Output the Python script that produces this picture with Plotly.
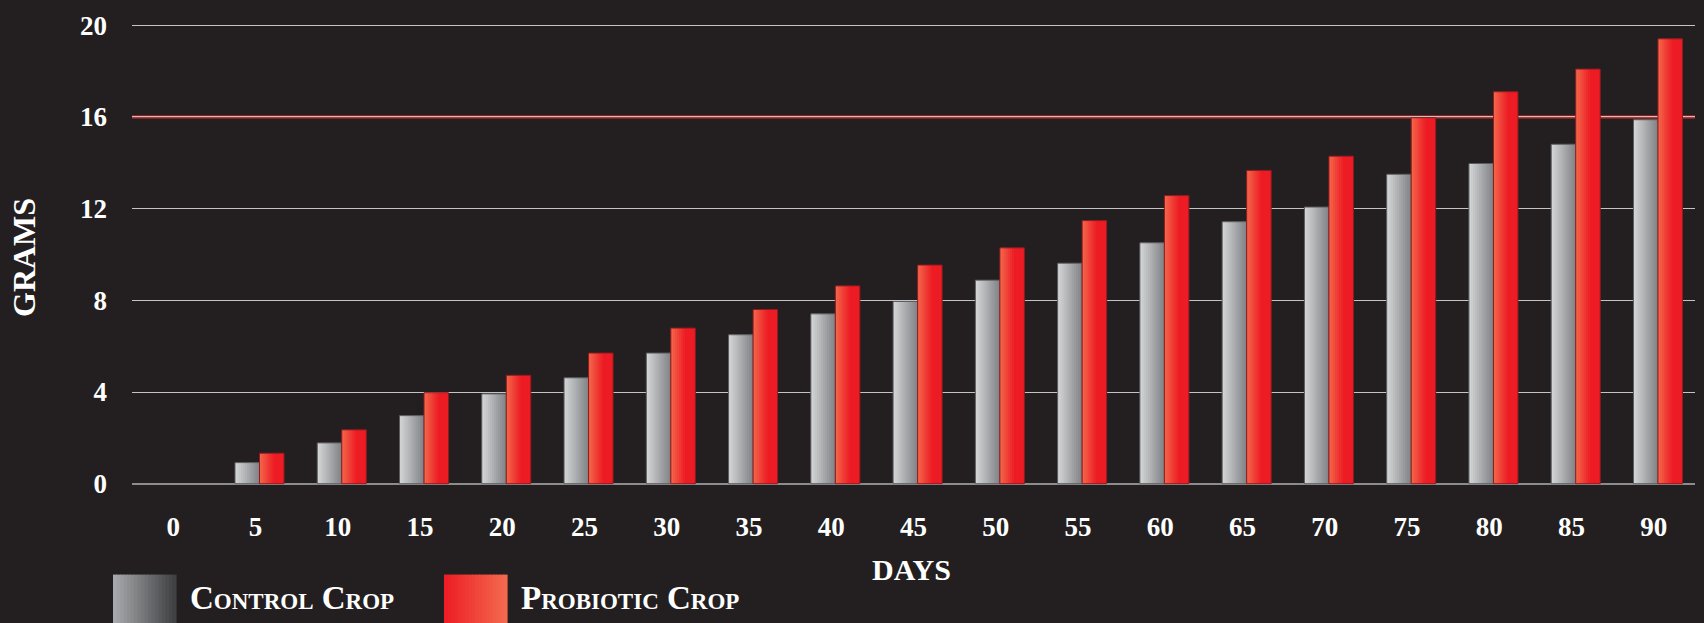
import plotly.graph_objects as go

# ---- data ----
days = ["0", "5", "10", "15", "20", "25", "30", "35", "40", "45",
        "50", "55", "60", "65", "70", "75", "80", "85", "90"]
control_crop = [0, 0.92, 1.78, 2.97, 3.92, 4.62, 5.70, 6.50, 7.41, 7.95,
                8.88, 9.62, 10.51, 11.43, 12.07, 13.50, 13.97, 14.81, 15.88]
probiotic_crop = [0, 1.33, 2.35, 3.97, 4.73, 5.70, 6.79, 7.60, 8.63, 9.54,
                  10.29, 11.48, 12.57, 13.67, 14.29, 15.97, 17.10, 18.09, 19.41]
y_ticks = [0, 4, 8, 12, 16, 20]
highlight_levels = [16]
series_names = ["Control Crop", "Probiotic Crop"]

# ---- style ----
BG = "#231f20"
FONT = "Liberation Serif"
BAR_W = 0.298
SHIFT = 0.05
N_STRIPS = 12


def hex_to_rgb(h):
    h = h.lstrip("#")
    return tuple(int(h[i:i + 2], 16) for i in (0, 2, 4))


def mix(c1, c2, t):
    a, b = hex_to_rgb(c1), hex_to_rgb(c2)
    return "rgb(%d,%d,%d)" % tuple(round(a[k] + (b[k] - a[k]) * t) for k in range(3))


fig = go.Figure()

series = [
    (control_crop, -BAR_W + SHIFT, "#d6d7d9", "#7f8184", 1.0, "#5c5d60"),
    (probiotic_crop, SHIFT, "#f3684b", "#ed1c24", 0.6, "#8e1b1f"),
]

for vals, off, c_left, c_right, reach, edge in series:
    sw = BAR_W / N_STRIPS
    for i in range(N_STRIPS):
        t = min(1.0, ((i + 0.5) / N_STRIPS) / reach)
        wid = sw * 1.6 if i < N_STRIPS - 1 else sw
        fig.add_trace(go.Bar(
            x=days, y=vals, offset=off + i * sw, width=wid,
            marker=dict(color=mix(c_left, c_right, t), line=dict(width=0)),
            showlegend=False, hoverinfo="skip"))
    edge_colors = [edge if v > 0 else "rgba(0,0,0,0)" for v in vals]
    fig.add_trace(go.Bar(
        x=days, y=vals, offset=off, width=BAR_W,
        marker=dict(color="rgba(0,0,0,0)", line=dict(color=edge_colors, width=1)),
        showlegend=False, hovertemplate="%{x}: %{y}<extra></extra>"))

for lvl in highlight_levels:
    fig.add_shape(type="line", xref="paper", yref="y", x0=0, x1=1, y0=lvl, y1=lvl,
                  line=dict(color="#c9302c", width=3), layer="below")

# ---- custom legend (paper coordinates) ----
PL, PW, PB, PH = 132, 1563, 486.3, 463.6


def px_x(px):
    return (px - PL) / PW


def px_y(py):
    return (PB - py) / PH


legend_items = [
    (series_names[0], 113, "#a9abae", "#3c3e40"),
    (series_names[1], 444, "#ed1c24", "#f36b4f"),
]
for name, x0px, c_l, c_r in legend_items:
    n = 18
    w = 63 / n
    for i in range(n):
        fig.add_shape(type="rect", xref="paper", yref="paper",
                      x0=px_x(x0px + i * w), x1=px_x(x0px + (i + 1) * w + 0.6),
                      y0=px_y(624), y1=px_y(575),
                      fillcolor=mix(c_l, c_r, (i + 0.5) / n), line=dict(width=0))
    fig.add_annotation(xref="paper", yref="paper", x=px_x(x0px + 75), y=px_y(598),
                       xanchor="left", yanchor="middle", showarrow=False,
                       text=name,
                       font=dict(family=FONT, size=33, color="white", weight="bold",
                                 variant="small-caps"))

fig.add_annotation(xref="paper", yref="paper", x=px_x(911), y=px_y(570),
                   xanchor="center", yanchor="middle", showarrow=False, text="DAYS",
                   font=dict(family=FONT, size=30, color="white", weight="bold"))
fig.add_annotation(xref="paper", yref="paper", x=px_x(24), y=px_y(258),
                   xanchor="center", yanchor="middle", showarrow=False, text="GRAMS",
                   textangle=-90,
                   font=dict(family=FONT, size=32, color="white", weight="bold"))

fig.update_layout(
    width=1704, height=623,
    paper_bgcolor=BG, plot_bgcolor=BG,
    barmode="overlay",
    margin=dict(l=PL, r=1704 - PL - PW, t=22.7, b=623 - 22.7 - PH, pad=0),
    showlegend=False,
    xaxis=dict(type="category", range=[-0.5, 18.5], showgrid=False, zeroline=False,
               showline=False, ticks="", ticklabelstandoff=22,
               tickfont=dict(family=FONT, size=27, color="white", weight="bold")),
    yaxis=dict(range=[-0.1, 20.1], tickvals=y_ticks, showgrid=True,
               gridcolor="#c4c4c4", gridwidth=1.2, zeroline=True,
               zerolinecolor="#8c8c8c", zerolinewidth=2, showline=False, ticks="",
               ticklabelstandoff=24,
               tickfont=dict(family=FONT, size=27, color="white", weight="bold")),
)

fig.write_html(
    "out.html",
    config={"displayModeBar": False},
    post_script="document.body.style.margin='0';document.body.style.overflow='hidden';"
                "document.body.style.background='%s';" % BG,
)
